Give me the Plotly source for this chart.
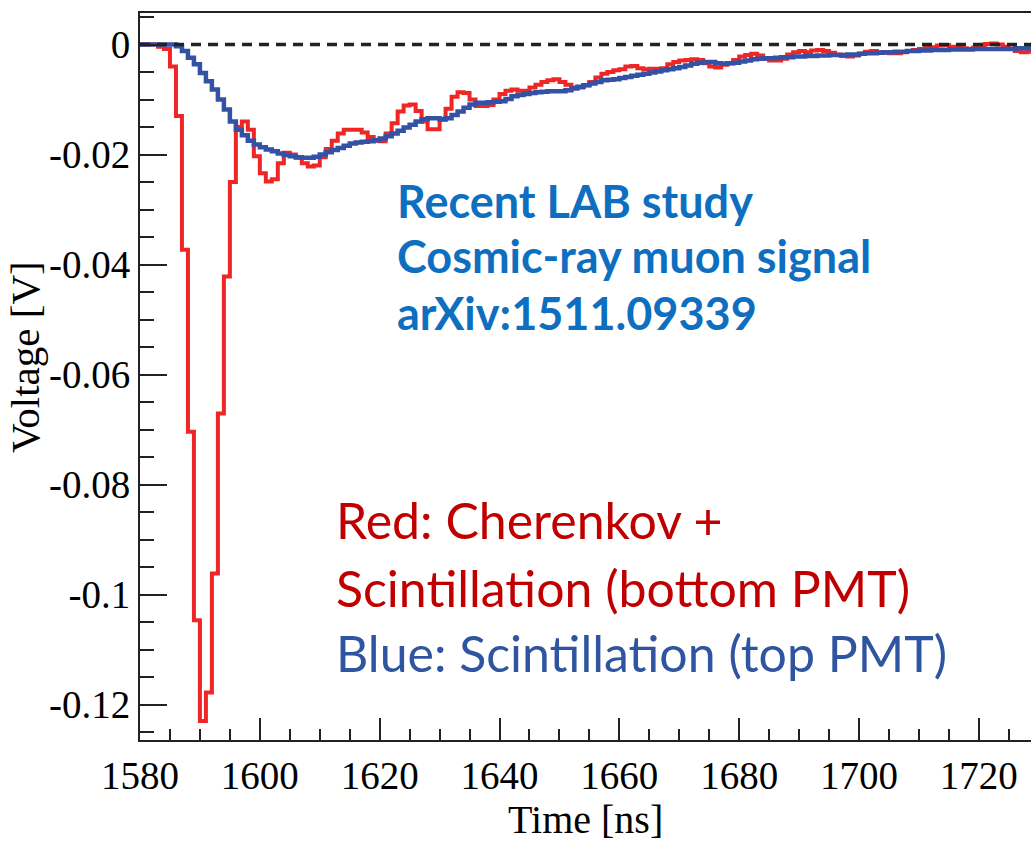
import plotly.graph_objects as go

# ---- data (1 ns bins, value per bin starting at t) ----
t_start = 1580
red_values = [
    0, 0, 0, -0.0004, -0.0008, -0.0040, -0.0130, -0.0373, -0.0704, -0.1047,
    -0.1230, -0.1178, -0.0962, -0.0671, -0.0422, -0.0250, -0.0150, -0.0140, -0.0155, -0.0203,
    -0.0234, -0.0249, -0.0245, -0.0216, -0.0197, -0.0200, -0.0206, -0.0216, -0.0222, -0.0220,
    -0.0205, -0.0190, -0.0175, -0.0162, -0.0155, -0.0155, -0.0155, -0.0160, -0.0168, -0.0175,
    -0.0176, -0.0162, -0.0143, -0.0122, -0.0111, -0.0109, -0.0121, -0.0140, -0.0154, -0.0154,
    -0.0137, -0.0117, -0.0095, -0.0087, -0.0088, -0.0100, -0.0112, -0.0112, -0.0110, -0.0100,
    -0.0090, -0.0084, -0.0082, -0.0084, -0.0084, -0.0078, -0.0073, -0.0068, -0.0065, -0.0063,
    -0.0068, -0.0073, -0.0078, -0.0078, -0.0074, -0.0068, -0.0060, -0.0053, -0.0050, -0.0047,
    -0.0045, -0.0040, -0.0039, -0.0043, -0.0045, -0.0044, -0.0044, -0.0043, -0.0036, -0.0032,
    -0.0029, -0.0028, -0.0027, -0.0028, -0.0034, -0.0040, -0.0042, -0.0037, -0.0034, -0.0028,
    -0.0022, -0.0019, -0.0017, -0.0020, -0.0026, -0.0029, -0.0029, -0.0026, -0.0018, -0.0014,
    -0.0012, -0.0014, -0.0011, -0.0010, -0.0012, -0.0015, -0.0018, -0.0021, -0.0022, -0.0020,
    -0.0017, -0.0013, -0.0012, -0.0014, -0.0015, -0.0016, -0.0016, -0.0014, -0.0012, -0.0010,
    -0.0008, -0.0006, -0.0005, -0.0002, -0.0001, -0.0004, -0.0006, -0.0007, -0.0008, -0.0006,
    -0.0003, 0.0001, 0.0002, 0.0000, -0.0004, -0.0008, -0.0012, -0.0014, -0.0013,
]
blue_values = [
    0, 0, 0, 0, 0, 0, -0.0003, -0.0012, -0.0024, -0.0036,
    -0.0052, -0.0067, -0.0082, -0.0100, -0.0118, -0.0140, -0.0155, -0.0165, -0.0175, -0.0182,
    -0.0187, -0.0191, -0.0194, -0.0198, -0.0201, -0.0203, -0.0205, -0.0206, -0.0206, -0.0204,
    -0.0200, -0.0196, -0.0192, -0.0188, -0.0184, -0.0180, -0.0178, -0.0177, -0.0176, -0.0174,
    -0.0171, -0.0167, -0.0162, -0.0157, -0.0151, -0.0146, -0.0140, -0.0136, -0.0134, -0.0134,
    -0.0136, -0.0134, -0.0128, -0.0122, -0.0115, -0.0109, -0.0106, -0.0106, -0.0105, -0.0104,
    -0.0103, -0.0099, -0.0094, -0.0092, -0.0090, -0.0088, -0.0087, -0.0086, -0.0085, -0.0085,
    -0.0085, -0.0083, -0.0080, -0.0077, -0.0074, -0.0071, -0.0068, -0.0065, -0.0064, -0.0063,
    -0.0061, -0.0059, -0.0057, -0.0055, -0.0053, -0.0051, -0.0049, -0.0047, -0.0045, -0.0043,
    -0.0041, -0.0038, -0.0035, -0.0033, -0.0032, -0.0032, -0.0034, -0.0035, -0.0034, -0.0033,
    -0.0031, -0.0029, -0.0027, -0.0026, -0.0025, -0.0025, -0.0024, -0.0023, -0.0023, -0.0022,
    -0.0022, -0.0021, -0.0021, -0.0020, -0.0020, -0.0019, -0.0019, -0.0019, -0.0018, -0.0018,
    -0.0017, -0.0016, -0.0016, -0.0015, -0.0014, -0.0014, -0.0013, -0.0013, -0.0012, -0.0012,
    -0.0011, -0.0011, -0.0010, -0.0010, -0.0010, -0.0009, -0.0009, -0.0009, -0.0009, -0.0008,
    -0.0008, -0.0008, -0.0008, -0.0008, -0.0008, -0.0008, -0.0007, -0.0007, -0.0007,
]
x_tick_vals = [1580, 1600, 1620, 1640, 1660, 1680, 1700, 1720]
x_tick_text = ["1580", "1600", "1620", "1640", "1660", "1680", "1700", "1720"]
y_tick_vals = [0, -0.02, -0.04, -0.06, -0.08, -0.10, -0.12]
y_tick_text = ["0", "-0.02", "-0.04", "-0.06", "-0.08", "-0.1", "-0.12"]

info_lines = ["Recent LAB study", "Cosmic-ray muon signal", "arXiv:1511.09339"]
red_lines = ["Red: Cherenkov +", "Scintillation (bottom PMT)"]
blue_line = "Blue: Scintillation (top PMT)"


def step_xy(values):
    xs = [t_start + i for i in range(len(values) + 1)]
    ys = list(values) + [values[-1]]
    return xs, ys


# ---- layout geometry (pixels) ----
W, H = 1031, 845
L, R, T, B = 140, 0, 13, 105
PW, PH = W - L - R, H - T - B


def px(x):
    return (x - L) / PW


def py(y):
    return (H - B - y) / PH


fig = go.Figure()
rx, ry = step_xy(red_values)
bx, by = step_xy(blue_values)
fig.add_trace(go.Scatter(x=rx, y=ry, mode="lines", line=dict(color="#EF2626", width=4, shape="hv"),
                         showlegend=False, hoverinfo="skip"))
fig.add_trace(go.Scatter(x=bx, y=by, mode="lines", line=dict(color="#3352A6", width=4.5, shape="hv"),
                         showlegend=False, hoverinfo="skip"))

fig.add_shape(type="line", xref="paper", yref="y", x0=0, x1=1, y0=0, y1=0,
              line=dict(color="#222222", width=3.5, dash="10px,7px"), layer="above")

tickfont = dict(family="Liberation Serif", size=39, color="black")
fig.update_xaxes(range=[1580, 1728.7], tickmode="array", tickvals=x_tick_vals, ticktext=x_tick_text,
                 ticks="inside", ticklen=22, tickwidth=1.5, tickcolor="#222",
                 showline=True, linewidth=2, linecolor="#222", mirror=True,
                 showgrid=False, zeroline=False, tickfont=tickfont,
                 minor=dict(tickmode="linear", tick0=1580, dtick=5, ticks="inside", ticklen=11,
                            tickwidth=1.5, tickcolor="#222", showgrid=False))
fig.update_yaxes(range=[-0.12645, 0.00573], tickmode="array", tickvals=y_tick_vals, ticktext=y_tick_text,
                 ticks="inside", ticklen=27, tickwidth=1.5, tickcolor="#222",
                 showline=True, linewidth=2, linecolor="#222", mirror=False,
                 showgrid=False, zeroline=False, tickfont=tickfont,
                 minor=dict(tickmode="linear", tick0=0, dtick=0.005, ticks="inside", ticklen=14,
                            tickwidth=1.5, tickcolor="#222", showgrid=False))

ann = []
ann.append(dict(text="Voltage [V]", x=px(25), y=py(357), xref="paper", yref="paper", textangle=-90,
                showarrow=False, xanchor="center", yanchor="middle",
                font=dict(family="Liberation Serif", size=41, color="black")))
ann.append(dict(text="Time [ns]", x=px(585), y=py(820), xref="paper", yref="paper",
                showarrow=False, xanchor="center", yanchor="middle",
                font=dict(family="Liberation Serif", size=40, color="black")))
for txt, yc in zip(info_lines, [201, 256, 313]):
    ann.append(dict(text="<b>" + txt + "</b>", x=px(395), y=py(yc), xref="paper", yref="paper",
                    showarrow=False, xanchor="left", yanchor="middle",
                    font=dict(family="Lato", size=45, color="#0E6FC0")))
for txt, yc in zip(red_lines, [520, 588]):
    ann.append(dict(text=txt, x=px(334), y=py(yc), xref="paper", yref="paper",
                    showarrow=False, xanchor="left", yanchor="middle",
                    font=dict(family="Lato", size=50, color="#C00000")))
ann.append(dict(text=blue_line, x=px(334), y=py(653), xref="paper", yref="paper",
                showarrow=False, xanchor="left", yanchor="middle",
                font=dict(family="Lato", size=50, color="#2F55A0")))

fig.update_layout(width=W, height=H, margin=dict(l=L, r=R, t=T, b=B, pad=0),
                  paper_bgcolor="white", plot_bgcolor="white", annotations=ann)

fig.write_html("out.html")
